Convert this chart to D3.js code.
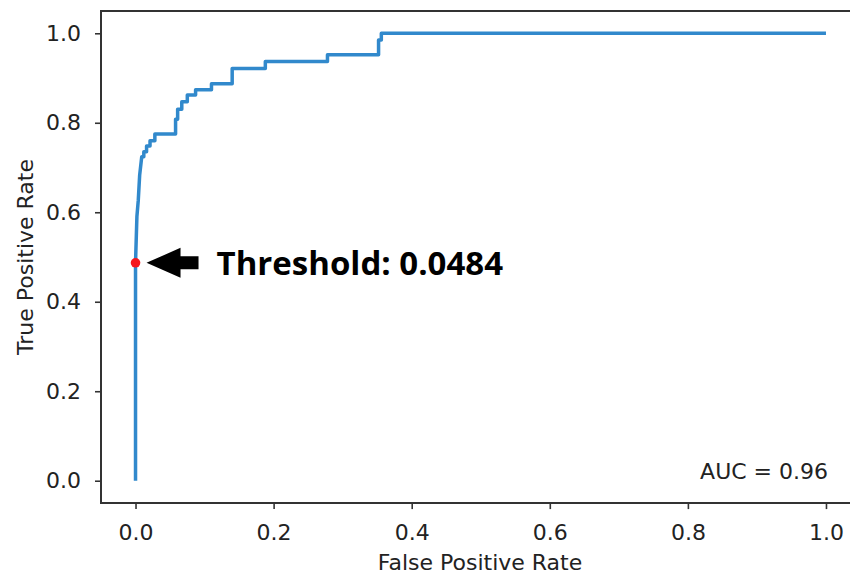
<!DOCTYPE html>
<meta charset="utf-8">
<script src="https://d3js.org/d3.v7.min.js"></script>
<style>
  body { margin: 0; background: #fff; }
  text { font-family: "DejaVu Sans", sans-serif; fill: #222; }
</style>
<svg id="vis"></svg>
<script>
    // ROC curve corners
    let fpr = [0, 0, 0.002, 0.004, 0.006, 0.009, 0.012, 0.012, 0.016, 0.016, 0.021, 0.021,
        0.028, 0.028, 0.058, 0.058, 0.061, 0.061, 0.067, 0.067, 0.075, 0.075, 0.087, 0.087,
        0.110, 0.110, 0.140, 0.140, 0.188, 0.188, 0.278, 0.278, 0.352, 0.352, 0.356, 0.356, 1.0]
    let tpr = [0, 0.487, 0.590, 0.627, 0.683, 0.724, 0.724, 0.735, 0.735, 0.748, 0.748, 0.760,
        0.760, 0.775, 0.775, 0.808, 0.808, 0.830, 0.830, 0.847, 0.847, 0.862, 0.862, 0.874,
        0.874, 0.887, 0.887, 0.921, 0.921, 0.937, 0.937, 0.952, 0.952, 0.985, 0.985, 1.0, 1.0]
    let threshold = {fpr: 0, tpr: 0.487, label: 'Threshold: 0.0484'}
    let auc = 0.96
    let ticks = [0, 0.2, 0.4, 0.6, 0.8, 1.0]

    let width = 850, height = 577

    let svg = d3.select('#vis')
        .attr('width', width)
        .attr('height', height)

    // matplotlib style 5% margins on both axes
    let x = d3.scaleLinear().domain([-0.05, 1.05]).range([101, 860.5])
    let y = d3.scaleLinear().domain([-0.05, 1.05]).range([503.1, 10.9])

    let points = fpr.map((f, i) => [f, tpr[i]])

    // curve
    svg.append('path')
        .datum(points)
        .attr('fill', 'none')
        .attr('stroke', '#3189cc')
        .attr('stroke-width', 3.5)
        .attr('stroke-linejoin', 'round')
        .attr('d', d3.line().x(d => x(d[0])).y(d => y(d[1])))

    // frame
    svg.append('path')
        .attr('fill', 'none')
        .attr('stroke', '#333')
        .attr('stroke-width', 2)
        .attr('d', 'M' + x.range()[1] + ',' + y.range()[1] + 'H' + x.range()[0] +
            'V' + y.range()[0] + 'H' + x.range()[1])

    // x axis
    let xAxis = svg.append('g')
        .attr('transform', 'translate(0,' + y.range()[0] + ')')
        .call(d3.axisBottom(x).tickValues(ticks).tickFormat(d3.format('.1f')).tickSize(6).tickPadding(15))
    // y axis
    let yAxis = svg.append('g')
        .attr('transform', 'translate(' + x.range()[0] + ',0)')
        .call(d3.axisLeft(y).tickValues(ticks).tickFormat(d3.format('.1f')).tickSize(6).tickPadding(14))

    for (let g of [xAxis, yAxis]) {
        g.select('.domain').remove()
        g.selectAll('.tick line').attr('stroke', '#333').attr('stroke-width', 1.6)
        g.selectAll('.tick text')
            .style('font-family', '"DejaVu Sans", sans-serif')
            .style('font-size', '22px')
            .attr('fill', '#222')
    }

    // axis labels
    svg.append('text')
        .attr('x', 480)
        .attr('y', 570)
        .attr('text-anchor', 'middle')
        .style('font-size', '22px')
        .text('False Positive Rate')

    svg.append('text')
        .attr('transform', 'translate(33,' + (y.range()[0] + y.range()[1]) / 2 + ') rotate(-90)')
        .attr('text-anchor', 'middle')
        .style('font-size', '22px')
        .text('True Positive Rate')

    // AUC
    svg.append('text')
        .attr('x', 828)
        .attr('y', 479)
        .attr('text-anchor', 'end')
        .style('font-size', '22px')
        .text('AUC = ' + auc.toFixed(2))

    // threshold point
    let tx = x(threshold.fpr), ty = y(threshold.tpr)
    svg.append('circle')
        .attr('cx', tx)
        .attr('cy', ty)
        .attr('r', 4.8)
        .attr('fill', '#f5161c')

    // arrow pointing at the point
    let arrow = [[11, 0], [45, -15], [45, -6.5], [63, -6.5], [63, 6.5], [45, 6.5], [45, 15]]
    svg.append('polygon')
        .attr('points', arrow.map(p => (tx + p[0]) + ',' + (ty + p[1])).join(' '))
        .attr('fill', '#000')

    svg.append('text')
        .attr('x', tx + 81)
        .attr('y', ty + 12)
        .style('font-family', '"Open Sans", sans-serif')
        .style('font-weight', 'bold')
        .style('font-size', '33px')
        .style('fill', '#000')
        .text(threshold.label)
</script>
